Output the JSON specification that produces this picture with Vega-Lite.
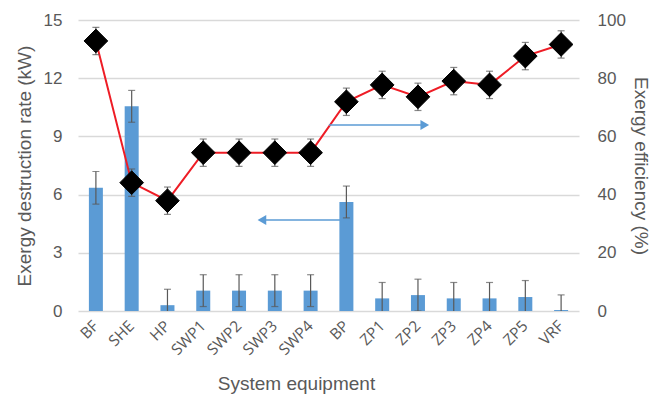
{
  "$schema": "https://vega.github.io/schema/vega-lite/v6.json",
  "width": 501,
  "height": 291,
  "autosize": "none",
  "padding": {"left": 78, "top": 20, "right": 79, "bottom": 85},
  "background": "white",
  "config": {
    "view": {"stroke": null},
    "font": "Liberation Sans",
    "axis": {
      "labelColor": "#595959",
      "titleColor": "#595959",
      "titleFontWeight": "normal",
      "labelFont": "Liberation Sans",
      "titleFont": "Liberation Sans"
    }
  },
  "datasets": {
    "equipment": [
      {"name": "BF", "kw": 6.35, "kwErr": 0.84, "eff": 92.8, "effErr": 4.7},
      {"name": "SHE", "kw": 10.55, "kwErr": 0.82, "eff": 44.1, "effErr": 4.7},
      {"name": "HP", "kw": 0.3, "kwErr": 0.82, "eff": 37.9, "effErr": 4.7},
      {"name": "SWP1", "kw": 1.05, "kwErr": 0.82, "eff": 54.4, "effErr": 4.7},
      {"name": "SWP2", "kw": 1.05, "kwErr": 0.82, "eff": 54.4, "effErr": 4.7},
      {"name": "SWP3", "kw": 1.05, "kwErr": 0.82, "eff": 54.4, "effErr": 4.7},
      {"name": "SWP4", "kw": 1.05, "kwErr": 0.82, "eff": 54.4, "effErr": 4.7},
      {"name": "BP", "kw": 5.62, "kwErr": 0.82, "eff": 71.9, "effErr": 4.7},
      {"name": "ZP1", "kw": 0.65, "kwErr": 0.82, "eff": 77.7, "effErr": 4.7},
      {"name": "ZP2", "kw": 0.82, "kwErr": 0.82, "eff": 73.6, "effErr": 4.7},
      {"name": "ZP3", "kw": 0.65, "kwErr": 0.82, "eff": 79.0, "effErr": 4.7},
      {"name": "ZP4", "kw": 0.65, "kwErr": 0.82, "eff": 77.7, "effErr": 4.7},
      {"name": "ZP5", "kw": 0.72, "kwErr": 0.85, "eff": 87.6, "effErr": 4.7},
      {"name": "VRF", "kw": 0.05, "kwErr": 0.78, "eff": 91.6, "effErr": 4.7}
    ],
    "arrowShafts": [
      {"from": 6.82, "to": 4.62, "level": 4.69},
      {"from": 6.51, "to": 9.2, "level": 9.59}
    ],
    "arrowHeads": [
      {"at": 4.64, "level": 4.69, "shape": "triangle-left"},
      {"at": 9.19, "level": 9.59, "shape": "triangle-right"}
    ]
  },
  "layer": [
    {
      "data": {"name": "equipment"},
      "encoding": {
        "x": {
          "field": "name",
          "type": "nominal",
          "sort": null,
          "scale": {"paddingInner": 0, "paddingOuter": 0},
          "axis": {
            "title": "System equipment",
            "titleFontSize": 19,
            "titleX": 218,
            "titleY": 78,
            "titleBaseline": "alphabetic",
            "labelAngle": -45,
            "labelAlign": "right",
            "labelBaseline": "middle",
            "labelFont": "Open Sans",
            "labelFontSize": 15.5,
            "labelPadding": 12,
            "ticks": false,
            "domain": false
          }
        },
        "y": {
          "field": "kw",
          "type": "quantitative",
          "title": "Exergy destruction rate (kW)",
          "scale": {"domain": [0, 15], "nice": false},
          "axis": {
            "titleFontSize": 19,
            "titlePadding": 9,
            "values": [0, 3, 6, 9, 12, 15],
            "labelFontSize": 17,
            "labelPadding": 16,
            "grid": true,
            "gridColor": "#d9d9d9",
            "gridWidth": 1.3,
            "ticks": false,
            "domain": false
          }
        }
      },
      "layer": [
        {
          "mark": {"type": "bar", "color": "#5b9bd5", "size": 14}
        },
        {
          "mark": {
            "type": "errorbar",
            "clip": true,
            "rule": {"color": "#595959", "strokeWidth": 1.2},
            "ticks": {"color": "#595959", "size": 7, "thickness": 1.2}
          },
          "encoding": {
            "yError": {"field": "kwErr"}
          }
        }
      ]
    },
    {
      "data": {"name": "equipment"},
      "encoding": {
        "x": {
          "field": "name",
          "type": "nominal",
          "sort": null,
          "scale": {"paddingInner": 0, "paddingOuter": 0},
          "axis": null
        },
        "y": {
          "field": "eff",
          "type": "quantitative",
          "title": "Exergy efficiency (%)",
          "scale": {"domain": [0, 100], "nice": false},
          "axis": {
            "orient": "right",
            "titleFontSize": 19,
            "titlePadding": 5,
            "values": [0, 20, 40, 60, 80, 100],
            "labelFontSize": 17,
            "labelPadding": 18,
            "grid": false,
            "ticks": false,
            "domain": false
          }
        }
      },
      "layer": [
        {
          "mark": {"type": "line", "color": "#ee1c25", "strokeWidth": 2}
        },
        {
          "mark": {
            "type": "errorbar",
            "rule": {"color": "#595959", "strokeWidth": 1.2},
            "ticks": {"color": "#595959", "size": 7, "thickness": 1.2}
          },
          "encoding": {
            "yError": {"field": "effErr"}
          }
        },
        {
          "mark": {
            "type": "point",
            "shape": "diamond",
            "filled": true,
            "color": "#000000",
            "size": 560,
            "opacity": 1,
            "stroke": "#000000",
            "strokeWidth": 1
          }
        }
      ]
    },
    {
      "encoding": {
        "y": {
          "type": "quantitative",
          "scale": {"domain": [0, 15], "nice": false},
          "axis": null
        }
      },
      "layer": [
        {
          "data": {"name": "arrowShafts"},
          "mark": {"type": "rule", "color": "#5b9bd5", "strokeWidth": 1.5},
          "encoding": {
            "x": {
              "field": "from",
              "type": "quantitative",
              "scale": {"domain": [-0.5, 13.5], "nice": false, "zero": false},
              "axis": null
            },
            "x2": {"field": "to"},
            "y": {"field": "level", "type": "quantitative"}
          }
        },
        {
          "data": {"name": "arrowHeads"},
          "mark": {"type": "point", "filled": true, "color": "#5b9bd5", "size": 100, "opacity": 1},
          "encoding": {
            "x": {"field": "at", "type": "quantitative"},
            "y": {"field": "level", "type": "quantitative"},
            "shape": {"field": "shape", "type": "nominal", "scale": null}
          }
        }
      ]
    }
  ],
  "resolve": {"scale": {"x": "independent", "y": "independent"}}
}
